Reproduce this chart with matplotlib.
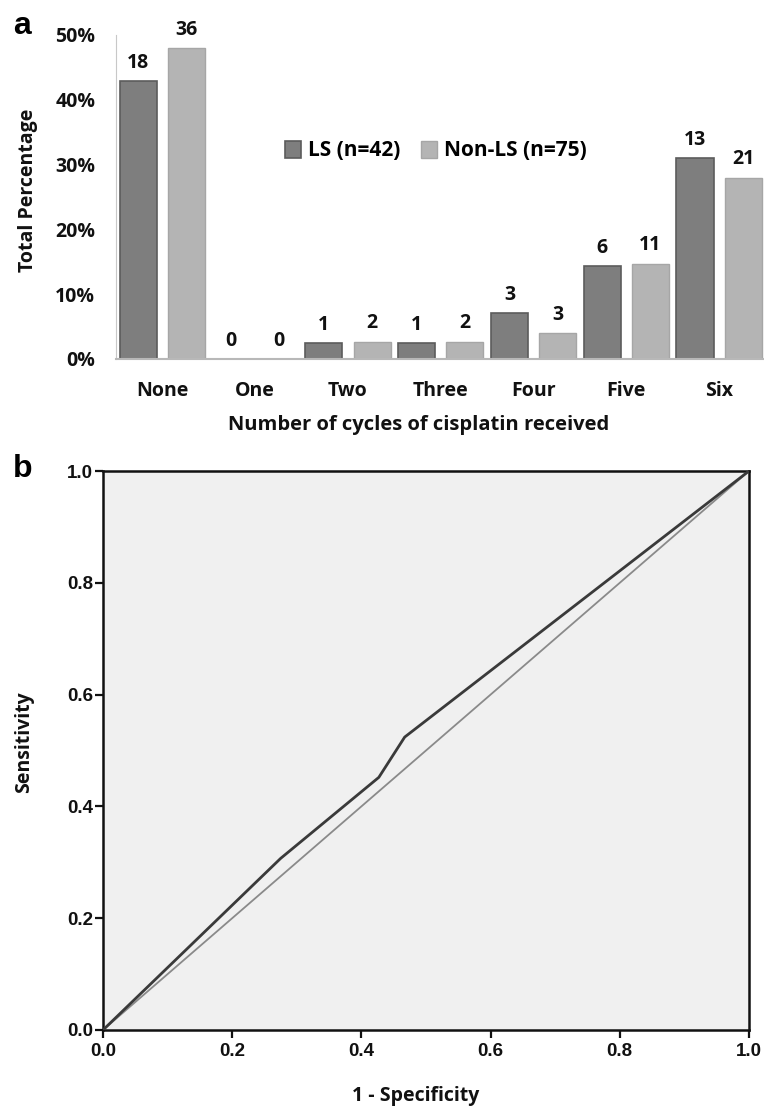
import matplotlib
matplotlib.use("Agg")
import matplotlib.pyplot as plt
import numpy as np

# ---------------- data ----------------
categories = ["None", "One", "Two", "Three", "Four", "Five", "Six"]
ls_pct = [42.9, 0.0, 2.4, 2.4, 7.1, 14.3, 31.0]
nonls_pct = [48.0, 0.0, 2.7, 2.7, 4.0, 14.7, 28.0]
ls_counts = [18, 0, 1, 1, 3, 6, 13]
nonls_counts = [36, 0, 2, 2, 3, 11, 21]
series_names = ["LS (n=42)", "Non-LS (n=75)"]
y_ticks = [0, 10, 20, 30, 40, 50]

roc_fpr = [0.0, 0.275, 0.427, 0.467, 1.0]
roc_tpr = [0.0, 0.307, 0.452, 0.524, 1.0]
ref_line = [0.0, 1.0]
roc_ticks = [0.0, 0.2, 0.4, 0.6, 0.8, 1.0]

W, H = 764, 1107
fig = plt.figure(figsize=(W / 100, H / 100), dpi=100)
fig.patch.set_facecolor("white")

def fx(x):
    return x / W

def fy(y):
    return 1 - y / H

cal = "Open Sans"
ari = "Liberation Sans"

# ---------------- panel a ----------------
left, right, top, base = 116, 765.5, 35, 359
ax = fig.add_axes([fx(left), fy(base), (right - left) / W, (base - top) / H])
x = np.arange(len(categories))
off = 0.26
bw = 0.40
c_ls, e_ls = "#7e7e7e", "#5c5c5c"
c_nl, e_nl = "#b4b4b4", "#a6a6a6"
b1 = ax.bar(x - off, ls_pct, bw, color=c_ls, edgecolor=e_ls, linewidth=1.2, label=series_names[0])
b2 = ax.bar(x + off, nonls_pct, bw, color=c_nl, edgecolor=e_nl, linewidth=1.0, label=series_names[1])
for rects, counts in ((b1, ls_counts), (b2, nonls_counts)):
    for r, c in zip(rects, counts):
        ax.annotate(str(c), (r.get_x() + r.get_width() / 2, r.get_height()),
                    xytext=(0, 6), textcoords="offset points", ha="center", va="bottom",
                    fontsize=14, fontweight="bold", family=cal, color="#111111")
ax.set_xlim(-0.5, 6.5)
ax.set_ylim(0, 50)
ax.set_yticks(y_ticks)
ax.set_yticklabels([f"{v}%" for v in y_ticks])
ax.set_xticks(x)
ax.set_xticklabels(categories)
for s in ("top", "right"):
    ax.spines[s].set_visible(False)
ax.spines["left"].set_color("#c8c8c8")
ax.spines["bottom"].set_color("#b8b8b8")
ax.spines["bottom"].set_linewidth(1.5)
ax.tick_params(axis="both", length=0)
ax.tick_params(axis="y", pad=15)
ax.tick_params(axis="x", pad=16)
for t in ax.get_xticklabels() + ax.get_yticklabels():
    t.set_fontfamily(cal)
    t.set_fontweight("bold")
    t.set_fontsize(14)
    t.set_color("#111111")
leg = ax.legend(loc="center", bbox_to_anchor=(fx(436), fy(151)), bbox_transform=fig.transFigure,
                ncol=2, frameon=False, handlelength=0.75, handleheight=0.9, handletextpad=0.35,
                columnspacing=1.0, prop={"family": cal, "weight": "bold", "size": 15})
fig.text(fx(419), fy(425), "Number of cycles of cisplatin received", ha="center", va="center",
         fontsize=14.5, fontweight="bold", family=cal, color="#111111")
fig.text(fx(28), fy(190), "Total Percentage", ha="center", va="center", rotation=90,
         fontsize=14, fontweight="bold", family=cal, color="#111111")
fig.text(fx(13), fy(34), "a", ha="left", va="baseline", fontsize=23, fontweight="bold", family=ari)

# ---------------- panel b ----------------
l2, r2, t2, b2p = 103, 749, 471, 1030
ax2 = fig.add_axes([fx(l2), fy(b2p), (r2 - l2) / W, (b2p - t2) / H])
ax2.set_facecolor("#f0f0f0")
ax2.plot(ref_line, ref_line, color="#8a8a8a", linewidth=1.3, zorder=2)
ax2.plot(roc_fpr, roc_tpr, color="#3a3a3a", linewidth=2.0, zorder=3)
ax2.set_xlim(0, 1)
ax2.set_ylim(0, 1)
ax2.set_xticks(roc_ticks)
ax2.set_yticks(roc_ticks)
ax2.set_xticklabels([f"{v:.1f}" for v in roc_ticks])
ax2.set_yticklabels([f"{v:.1f}" for v in roc_ticks])
for s in ax2.spines.values():
    s.set_color("#111111")
    s.set_linewidth(1.8)
ax2.tick_params(axis="both", direction="out", length=6, width=1.6, color="#111111")
ax2.tick_params(axis="y", pad=1)
ax2.tick_params(axis="x", pad=3)
for t in ax2.get_xticklabels() + ax2.get_yticklabels():
    t.set_fontfamily(ari)
    t.set_fontweight("bold")
    t.set_fontsize(13.5)
    t.set_color("#111111")
fig.text(fx(416), fy(1096), "1 - Specificity", ha="center", va="center",
         fontsize=14, fontweight="bold", family=cal, color="#111111")
fig.text(fx(24), fy(742), "Sensitivity", ha="center", va="center", rotation=90,
         fontsize=14, fontweight="bold", family=cal, color="#111111")
fig.text(fx(13), fy(477), "b", ha="left", va="baseline", fontsize=23, fontweight="bold", family=ari)

fig.savefig("out.png", dpi=100)
